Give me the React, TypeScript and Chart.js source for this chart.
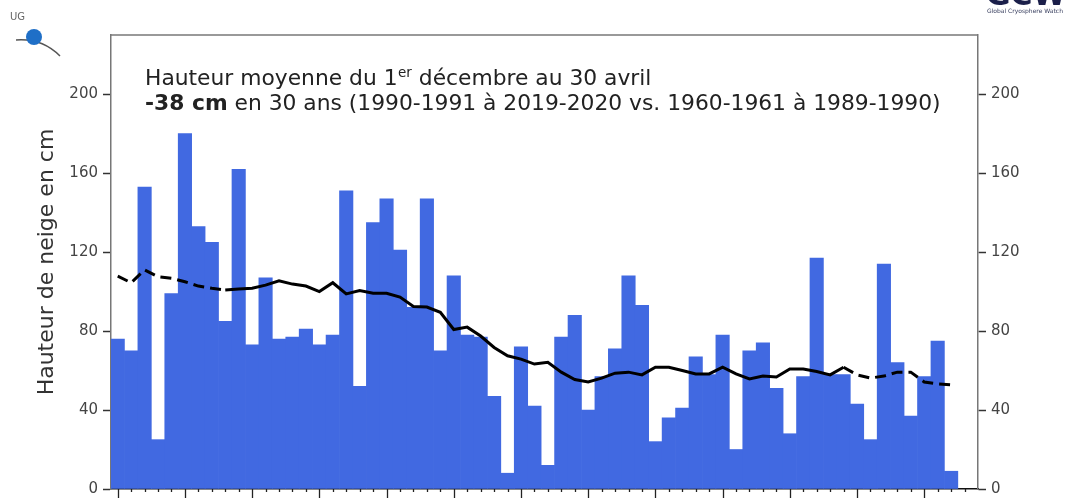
import React, { useEffect, useRef } from 'react';
import { Chart, registerables } from 'chart.js';

Chart.register(...registerables);

// Winters (1960 = 1960-1961 ... 2022 = 2022-2023)
const years = [
  1960, 1961, 1962, 1963, 1964, 1965, 1966, 1967, 1968, 1969,
  1970, 1971, 1972, 1973, 1974, 1975, 1976, 1977, 1978, 1979,
  1980, 1981, 1982, 1983, 1984, 1985, 1986, 1987, 1988, 1989,
  1990, 1991, 1992, 1993, 1994, 1995, 1996, 1997, 1998, 1999,
  2000, 2001, 2002, 2003, 2004, 2005, 2006, 2007, 2008, 2009,
  2010, 2011, 2012, 2013, 2014, 2015, 2016, 2017, 2018, 2019,
  2020, 2021, 2022,
];

// Mean snow depth 1 Dec - 30 Apr (cm)
const snowDepth = [
  76, 70, 153, 25, 99, 180, 133, 125, 85, 162,
  73, 107, 76, 77, 81, 73, 78, 151, 52, 135,
  147, 121, 92, 147, 70, 108, 78, 77, 47, 8,
  72, 42, 12, 77, 88, 40, 57, 71, 108, 93,
  24, 36, 41, 67, 58, 78, 20, 70, 74, 51,
  28, 57, 117, 58, 58, 43, 25, 114, 64, 37,
  57, 75, 9,
];

// Running mean (cm)
const runningMean = [
  107.8, 104.5, 111, 107.5, 106.7, 105, 102.8, 101.7, 100.8, 101.3,
  101.7, 103.3, 105.5, 103.8, 102.8, 100, 104.5, 98.8, 100.5, 99.2,
  99.2, 97.2, 92.5, 92.2, 89.5, 80.8, 82, 77.5, 71.7, 67.5,
  65.8, 63.3, 64.2, 59.2, 55.5, 54.2, 56.2, 58.7, 59.2, 57.8,
  61.7, 61.7, 60, 58.3, 58.3, 61.7, 58.3, 55.8, 57.2, 56.7,
  60.8, 60.8, 59.5, 57.8, 61.7, 57.8, 56.2, 57.2, 59.2, 59.2,
  54.2, 53.3, 52.8,
];

const yTicks = [0, 40, 80, 120, 160, 200];
const xTickYears = [
  1960, 1961, 1962, 1963, 1964, 1965, 1966, 1967, 1968, 1969,
  1970, 1971, 1972, 1973, 1974, 1975, 1976, 1977, 1978, 1979,
  1980, 1981, 1982, 1983, 1984, 1985, 1986, 1987, 1988, 1989,
  1990, 1991, 1992, 1993, 1994, 1995, 1996, 1997, 1998, 1999,
  2000, 2001, 2002, 2003, 2004, 2005, 2006, 2007, 2008, 2009,
  2010, 2011, 2012, 2013, 2014, 2015, 2016, 2017, 2018, 2019,
  2020, 2021, 2022, 2023,
];

const yTitle = 'Hauteur de neige en cm';
const note1a = 'Hauteur moyenne du 1';
const note1sup = 'er';
const note1b = ' décembre au 30 avril';
const note2bold = '-38 cm';
const note2rest = ' en 30 ans (1990-1991 à 2019-2020 vs. 1960-1961 à 1989-1990)';

const FONT = '"DejaVu Sans", "Bitstream Vera Sans", sans-serif';

export default function App() {
  const ref = useRef<HTMLCanvasElement | null>(null);

  useEffect(() => {
    document.body.style.margin = '0';
    const canvas = ref.current;
    if (!canvas) return;

    const overlay = {
      id: 'overlay',
      afterDraw(chart: any) {
        const c = chart.ctx as CanvasRenderingContext2D;
        const area = chart.chartArea;
        const xs = chart.scales.x;
        c.save();

        // top frame line
        c.strokeStyle = '#777';
        c.lineWidth = 1.5;
        c.beginPath();
        c.moveTo(area.left, area.top);
        c.lineTo(area.right, area.top);
        c.stroke();

        // x tick marks (major every 5 years)
        c.strokeStyle = '#222';
        c.lineWidth = 1.3;
        for (const yr of xTickYears) {
          const px = Math.round(xs.getPixelForValue(yr)) + 0.5;
          const len = yr % 5 === 0 ? 9 : 3;
          c.beginPath();
          c.moveTo(px, area.bottom);
          c.lineTo(px, area.bottom + len);
          c.stroke();
        }

        // annotation text
        c.fillStyle = '#222';
        c.textBaseline = 'alphabetic';
        c.textAlign = 'left';
        let x = 145;
        c.font = `21.8px ${FONT}`;
        c.fillText(note1a, x, 85);
        x += c.measureText(note1a).width;
        c.font = `13.5px ${FONT}`;
        c.fillText(note1sup, x + 0.5, 77);
        x += c.measureText(note1sup).width + 0.5;
        c.font = `21.8px ${FONT}`;
        c.fillText(note1b, x, 85);

        x = 145;
        c.font = `bold 21.8px ${FONT}`;
        c.fillText(note2bold, x, 110);
        x += c.measureText(note2bold).width;
        c.font = `21.8px ${FONT}`;
        c.fillText(note2rest, x, 110);

        // top-left logo
        c.fillStyle = '#666';
        c.font = `10px ${FONT}`;
        c.fillText('UG', 10, 20);
        c.strokeStyle = '#555';
        c.lineWidth = 1.5;
        c.beginPath();
        c.moveTo(16, 40);
        c.quadraticCurveTo(42, 38, 60, 56);
        c.stroke();
        c.fillStyle = '#1f6fc7';
        c.beginPath();
        c.arc(34, 37, 8, 0, Math.PI * 2);
        c.fill();

        // top-right logo
        c.fillStyle = '#1b1f4a';
        c.font = `bold 30px ${FONT}`;
        c.fillText('GCW', 986, 5);
        c.fillStyle = '#3a4060';
        c.font = `6px ${FONT}`;
        c.fillText('Global Cryosphere Watch', 987, 13);

        c.restore();
      },
    };

    const yCommon = (pos: 'left' | 'right') => ({
      position: pos,
      min: 0,
      max: 230,
      afterBuildTicks: (s: any) => {
        s.ticks = yTicks.map((v) => ({ value: v }));
      },
      grid: {
        drawOnChartArea: false,
        drawTicks: true,
        tickLength: 8,
        tickColor: '#333',
        tickWidth: 1.5,
      },
      border: { display: true, color: '#777', width: 1.5 },
      ticks: {
        font: { family: FONT, size: 15 },
        color: '#444',
        padding: 5,
      },
    });

    const chart = new Chart(canvas, {
      type: 'bar',
      data: {
        datasets: [
          {
            type: 'line',
            data: years.map((yr, i) => ({ x: yr, y: runningMean[i] })),
            borderColor: '#000',
            borderWidth: 3,
            pointRadius: 0,
            tension: 0,
            order: 0,
            segment: {
              borderDash: (ctx: any) =>
                ctx.p0.parsed.x < 1968 || ctx.p0.parsed.x >= 2014 ? [11, 6] : undefined,
            },
          } as any,
          {
            type: 'bar',
            data: years.map((yr, i) => ({ x: yr, y: snowDepth[i] })),
            backgroundColor: '#4169E1',
            borderWidth: 0,
            barPercentage: 1,
            categoryPercentage: 1,
            order: 1,
          } as any,
        ],
      },
      options: {
        animation: false,
        responsive: false,
        layout: { padding: { top: 35, left: 0, right: 0, bottom: 0 } },
        plugins: {
          legend: { display: false },
          tooltip: { enabled: false },
        },
        scales: {
          x: {
            type: 'linear',
            min: 1959.5,
            max: 2024,
            offset: false,
            grid: { display: false, offset: false },
            ticks: { display: false },
            border: { display: true, color: '#111', width: 1.5 },
            afterFit: (s: any) => {
              s.height = 9;
            },
          },
          y: {
            ...yCommon('left'),
            title: {
              display: true,
              text: yTitle,
              font: { family: FONT, size: 22 },
              color: '#333',
              padding: { top: 34, bottom: 0 },
            },
            afterFit: (s: any) => {
              s.width = 111;
            },
          },
          y2: {
            ...yCommon('right'),
            afterFit: (s: any) => {
              s.width = 95;
            },
          },
        } as any,
      },
      plugins: [overlay],
    });

    return () => chart.destroy();
  }, []);

  return (
    <div style={{ width: 1073, height: 503, position: 'relative', background: '#fff' }}>
      <canvas ref={ref} width={1073} height={503} style={{ width: 1073, height: 503, display: 'block' }} />
    </div>
  );
}
